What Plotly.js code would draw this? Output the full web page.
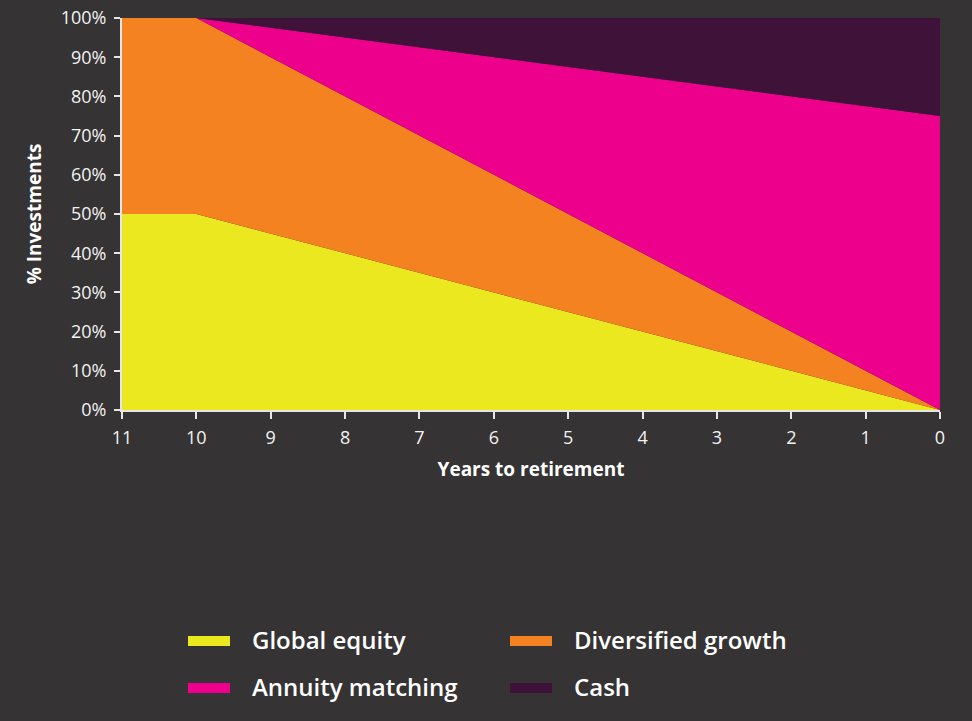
<!DOCTYPE html>
<html>
<head>
<meta charset="utf-8">
<script src="https://cdn.plot.ly/plotly-3.0.1.min.js"></script>
<style>html,body{margin:0;padding:0;background:#353334;}#chart{width:972px;height:721px;}</style>
</head>
<body>
<div id="chart"></div>
<script>
const years = [11, 10, 9, 8, 7, 6, 5, 4, 3, 2, 1, 0];
const seriesNames = ["Global equity", "Diversified growth", "Annuity matching", "Cash"];
const globalEquity = [50, 50, 45, 40, 35, 30, 25, 20, 15, 10, 5, 0];
const diversifiedGrowth = [50, 50, 45, 40, 35, 30, 25, 20, 15, 10, 5, 0];
const annuityMatching = [0, 0, 7.5, 15, 22.5, 30, 37.5, 45, 52.5, 60, 67.5, 75];
const cash = [0, 0, 2.5, 5, 7.5, 10, 12.5, 15, 17.5, 20, 22.5, 25];
const yTicks = [0, 10, 20, 30, 40, 50, 60, 70, 80, 90, 100];
const xTicks = [11, 10, 9, 8, 7, 6, 5, 4, 3, 2, 1, 0];

const colors = ["#ECE81F", "#F58220", "#EC008C", "#3F1239"];
const values = [globalEquity, diversifiedGrowth, annuityMatching, cash];

const traces = values.map((v, i) => ({
  type: "scatter", mode: "lines", x: years, y: v, name: seriesNames[i],
  stackgroup: "one", line: {width: 0, color: colors[i]}, fillcolor: colors[i],
  hoverinfo: "skip", showlegend: false
}));

const W = 972, H = 721, L = 122, R = 32, T = 18, B = 311;
const pw = W - L - R, ph = H - T - B;
const px = x => (x - L) / pw;
const py = y => (H - B - y) / ph;
const FAM = "'Open Sans', Lato, sans-serif";

const legendPos = [
  {rx: 188, ry: 636, tx: 253},
  {rx: 510, ry: 636, tx: 575},
  {rx: 188, ry: 683, tx: 253},
  {rx: 510, ry: 683, tx: 575}
];
const shapes = [], annotations = [];
legendPos.forEach((p, i) => {
  shapes.push({type: "rect", xref: "paper", yref: "paper",
    x0: px(p.rx), x1: px(p.rx + 42), y0: py(p.ry), y1: py(p.ry + 10),
    fillcolor: colors[i], line: {width: 0}});
  annotations.push({xref: "paper", yref: "paper", x: px(p.tx - 3), y: py(p.ry + 3),
    xanchor: "left", yanchor: "middle", showarrow: false, text: seriesNames[i],
    font: {family: FAM, size: 24, weight: 600, color: "#ffffff"}});
});

const axisFont = {family: FAM, size: 18, color: "#f2f2f2"};
const layout = {
  width: W, height: H,
  paper_bgcolor: "#353334", plot_bgcolor: "#353334",
  margin: {l: L, r: R, t: T, b: B},
  showlegend: false,
  xaxis: {
    range: [11, 0], tickmode: "array", tickvals: xTicks, ticktext: xTicks.map(String),
    showgrid: false, zeroline: false, showline: true, linecolor: "#e6e6e6", linewidth: 2,
    ticks: "outside", ticklen: 7, tickwidth: 2, tickcolor: "#e6e6e6",
    tickfont: axisFont, ticklabelstandoff: 3,
    title: {text: "<b>Years to retirement</b>", font: {family: FAM, size: 19, color: "#ffffff"}, standoff: 15}
  },
  yaxis: {
    range: [0, 100], tickmode: "array", tickvals: yTicks, ticktext: yTicks.map(v => v + "%"),
    showgrid: false, zeroline: false, showline: true, linecolor: "#e6e6e6", linewidth: 2,
    ticks: "outside", ticklen: 6, tickwidth: 2, tickcolor: "#e6e6e6",
    tickfont: axisFont, ticklabelstandoff: 4,
    title: {text: "<b>% Investments</b>", font: {family: FAM, size: 19, color: "#ffffff"}, standoff: 14}
  },
  shapes: shapes,
  annotations: annotations
};

Plotly.newPlot("chart", traces, layout, {displayModeBar: false, staticPlot: true});
</script>
</body>
</html>
